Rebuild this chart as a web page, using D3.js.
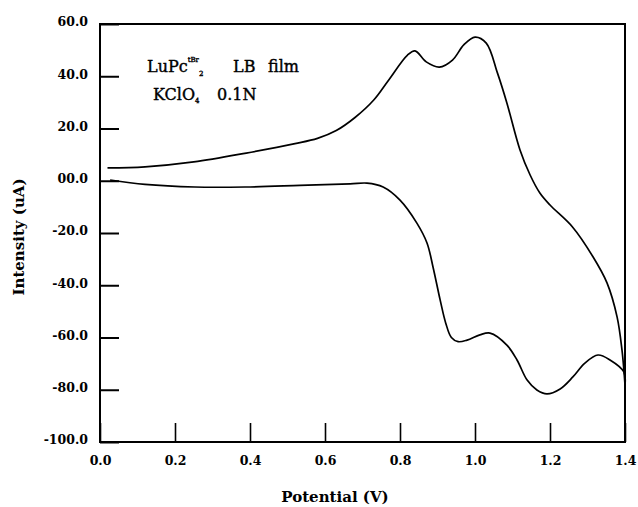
<!DOCTYPE html>
<html>
<head>
<meta charset="utf-8">
<script src="https://cdn.jsdelivr.net/npm/d3@7"></script>
<style>
  body { margin: 0; background: #fff; }
  svg { display: block; }
  .tick text { font-family: "DejaVu Serif", serif; font-weight: bold; font-size: 12.5px; fill: #000; }
</style>
</head>
<body>
<svg id="chart" width="638" height="507"></svg>
<script>
// potential (V) and current (uA)
const forwardV = [0.02, 0.12, 0.25, 0.39, 0.52, 0.58, 0.63, 0.68, 0.73, 0.77, 0.82, 0.84, 0.87, 0.905, 0.94, 0.97, 1.0, 1.03, 1.06, 1.085, 1.12, 1.147, 1.173, 1.2, 1.26, 1.315, 1.352, 1.379, 1.392, 1.397, 1.4];
const forwardI = [4.9, 5.3, 7.2, 10.6, 14.2, 16.2, 19.2, 24.2, 30.9, 38.6, 48.1, 49.7, 45.5, 43.5, 46.2, 52.0, 55.0, 52.7, 41.2, 29.8, 11.8, 2.2, -4.7, -9.3, -17.7, -29.2, -39.1, -52.2, -64.8, -72.4, -78.2];

const reverseV = [1.4, 1.397, 1.36, 1.328, 1.293, 1.261, 1.227, 1.192, 1.165, 1.139, 1.112, 1.085, 1.04, 1.013, 0.979, 0.955, 0.937, 0.922, 0.907, 0.888, 0.872, 0.845, 0.80, 0.755, 0.712, 0.667, 0.533, 0.387, 0.253, 0.12, 0.027];
const reverseI = [-78.2, -73.2, -68.6, -66.7, -69.8, -75.1, -79.7, -81.6, -80.1, -76.3, -68.6, -62.9, -58.3, -59.0, -61.0, -61.6, -60.0, -54.5, -45.6, -33.0, -23.8, -16.2, -7.4, -2.4, -0.9, -1.2, -1.8, -2.4, -2.4, -1.4, 0.3];

const xTicks = [0, 0.2, 0.4, 0.6, 0.8, 1.0, 1.2, 1.4];
const xTickLabels = ["0.0", "0.2", "0.4", "0.6", "0.8", "1.0", "1.2", "1.4"];
const yTicks = [60, 40, 20, 0, -20, -40, -60, -80, -100];
const yTickLabels = ["60.0", "40.0", "20.0", "00.0", "-20.0", "-40.0", "-60.0", "-80.0", "-100.0"];

const svg = d3.select("#chart");

const x = d3.scaleLinear().domain([0, 1.4]).range([100, 625]);
const y = d3.scaleLinear().domain([-100, 60]).range([442, 24]);

// axes with inward ticks
const yAxis = svg.append("g")
    .attr("transform", "translate(100,0)")
    .call(d3.axisLeft(y)
        .tickValues(yTicks)
        .tickSize(-19)
        .tickPadding(12)
        .tickFormat((d, i) => yTickLabels[i]));
yAxis.select(".domain").remove();
yAxis.selectAll(".tick line").attr("stroke", "#000").attr("stroke-width", 2);
yAxis.selectAll(".tick text").attr("dy", "0.15em");

const xAxis = svg.append("g")
    .attr("transform", "translate(0,442)")
    .call(d3.axisBottom(x)
        .tickValues(xTicks)
        .tickSize(-19)
        .tickPadding(14)
        .tickFormat((d, i) => xTickLabels[i]));
xAxis.select(".domain").remove();
xAxis.selectAll(".tick line").attr("stroke", "#000").attr("stroke-width", 1.6);

// frame
svg.append("rect")
    .attr("x", x(0)).attr("y", y(60))
    .attr("width", x(1.4) - x(0)).attr("height", y(-100) - y(60))
    .attr("fill", "none").attr("stroke", "#000").attr("stroke-width", 2);

// voltammogram
const line = d3.line()
    .x(d => x(d[0]))
    .y(d => y(d[1]))
    .curve(d3.curveCatmullRom.alpha(0.5));

const forward = forwardV.map((v, i) => [v, forwardI[i]]);
const reverse = reverseV.map((v, i) => [v, reverseI[i]]);

[forward, reverse].forEach(pts => {
  svg.append("path")
      .attr("d", line(pts))
      .attr("fill", "none")
      .attr("stroke", "#000")
      .attr("stroke-width", 1.7);
});

// axis titles
svg.append("text")
    .attr("x", 335).attr("y", 502)
    .attr("text-anchor", "middle")
    .style("font-family", "DejaVu Serif, serif")
    .style("font-weight", "bold")
    .style("font-size", "15px")
    .text("Potential (V)");

svg.append("text")
    .attr("transform", "translate(24,237) rotate(-90)")
    .attr("text-anchor", "middle")
    .style("font-family", "DejaVu Serif, serif")
    .style("font-weight", "bold")
    .style("font-size", "15px")
    .text("Intensity (uA)");

// annotation
const note = svg.append("g")
    .style("font-family", "DejaVu Serif, serif")
    .style("font-size", "16px")
    .attr("fill", "#000")
    .attr("stroke", "#000")
    .attr("stroke-width", 0.4);

const t1 = note.append("text").attr("x", 147).attr("y", 72);
t1.append("tspan").text("LuPc");
t1.append("tspan").attr("font-size", "7px").attr("dy", -10).text("tBr");
t1.append("tspan").attr("font-size", "7px").attr("dy", 14).text("2");
t1.append("tspan").attr("dy", -4).attr("x", 233).text("LB");
t1.append("tspan").attr("x", 268).text("film");

const t2 = note.append("text").attr("x", 153).attr("y", 100);
t2.append("tspan").text("KClO");
t2.append("tspan").attr("font-size", "7px").attr("dy", 3).text("4");
t2.append("tspan").attr("dy", -3).attr("x", 217).text("0.1N");
</script>
</body>
</html>
